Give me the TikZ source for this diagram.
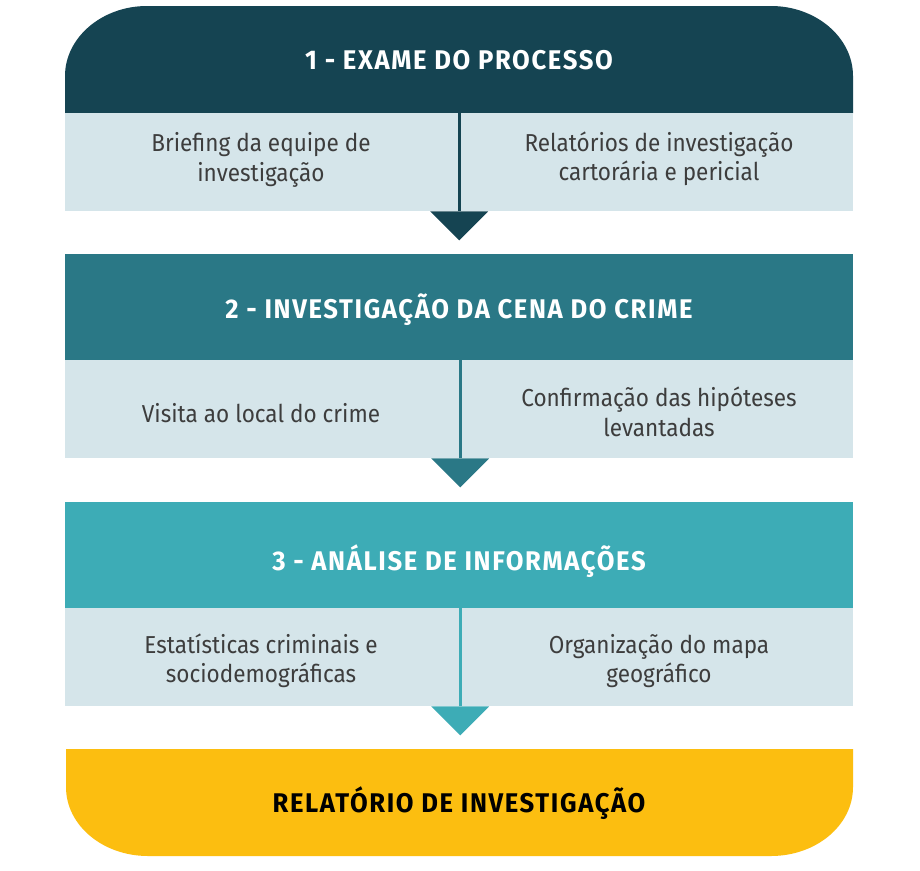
\documentclass[tikz,border=0pt]{standalone}
\usepackage{fontspec}
\setmainfont[FakeStretch=0.92]{Fira Sans}
\newfontfamily\titlefont[FakeStretch=0.95,LetterSpace=6]{Fira Sans Bold}
\definecolor{cA}{HTML}{154452}
\definecolor{cB}{HTML}{2A7886}
\definecolor{cC}{HTML}{3DACB6}
\definecolor{cLight}{HTML}{D5E5EA}
\definecolor{cYellow}{HTML}{FCBE10}
\definecolor{cText}{HTML}{3D3D3D}
\begin{document}
\begin{tikzpicture}[x=1pt,y=-1pt,
  headbox/.style={minimum width=788pt,minimum height=106pt,inner sep=0pt,anchor=north west},
  panelbox/.style={fill=cLight,minimum width=788pt,minimum height=98pt,inner sep=0pt,anchor=north west},
  titletext/.style={font=\titlefont\fontsize{27}{32}\selectfont,text=white},
  bodytext/.style={font=\fontsize{24.5}{29.5}\selectfont,text=cText,align=center},
  divider/.style={line width=3pt}
]
\fill[white] (0,0) rectangle (920,870);
\useasboundingbox (0,0) rectangle (920,870);

% Header 1 (rounded top)
\fill[cA] (65,113) -- (65,76) .. controls (65,37.5) and (102,6) .. (147,6)
  -- (771,6) .. controls (816,6) and (853,37.5) .. (853,76) -- (853,113) -- cycle;
\node[headbox] (h1) at (65,7) {};
\node[titletext] (t1) at (459,60) {1 - EXAME DO PROCESSO};
\node[panelbox] (p1) at (65,113) {};
\node[bodytext] (l1) at (261,160) {Briefing da equipe de\\investigação};
\node[bodytext] (r1) at (659,159) {Relatórios de investigação\\cartorária e pericial};

% Header 2
\node[headbox,fill=cB] (h2) at (65,254) {};
\node[titletext] (t2) at (459,310) {2 - INVESTIGAÇÃO DA CENA DO CRIME};
\node[panelbox] (p2) at (65,360) {};
\node[bodytext] (l2) at (261,413) {Visita ao local do crime};
\node[bodytext] (r2) at (659,412) {Confirmação das hipóteses\\levantadas};

% Header 3
\node[headbox,fill=cC] (h3) at (65,502) {};
\node[titletext] (t3) at (459,561) {3 - ANÁLISE DE INFORMAÇÕES};
\node[panelbox] (p3) at (65,608) {};
\node[bodytext] (l3) at (261,661) {Estatísticas criminais e\\sociodemográficas};
\node[bodytext] (r3) at (659,661) {Organização do mapa\\geográfico};

% Bottom box (rounded bottom)
\fill[cYellow] (66,749) -- (853,749) -- (853,787) .. controls (853,825.5) and (816,856) .. (771,856)
  -- (148,856) .. controls (103,856) and (66,825.5) .. (66,787) -- cycle;
\node[headbox] (h4) at (66,749) {};
\node[titletext,text=black] (t4) at (459,803) {RELATÓRIO DE INVESTIGAÇÃO};

% Connectors
\draw[divider,cA] (h1.south) -- (p1.south);
\fill[cA] ([xshift=-29pt]p1.south) -- ([xshift=29pt]p1.south) -- ([yshift=-29pt]p1.south) -- cycle;
\draw[divider,cB] ([xshift=1pt]h2.south) -- ([xshift=1pt]p2.south);
\fill[cB] ([xshift=-28pt]p2.south) -- ([xshift=30pt]p2.south) -- ([xshift=1pt,yshift=-29pt]p2.south) -- cycle;
\draw[divider,cC] ([xshift=1pt]h3.south) -- ([xshift=1pt]p3.south);
\fill[cC] ([xshift=-28pt]p3.south) -- ([xshift=30pt]p3.south) -- ([xshift=1pt,yshift=-29pt]p3.south) -- cycle;
\end{tikzpicture}
\end{document}
